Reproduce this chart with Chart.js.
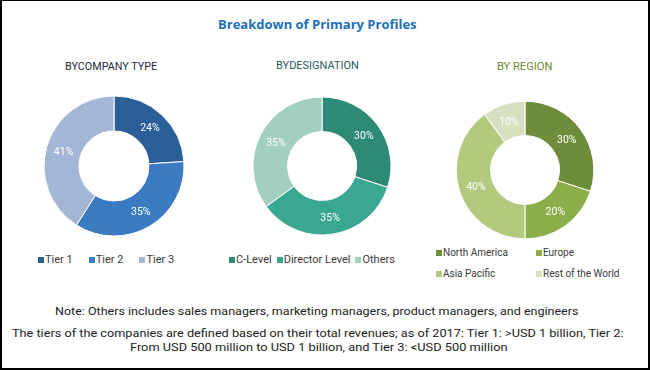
<!DOCTYPE html>
<html lang="en">
<head>
<meta charset="UTF-8">
<title>Breakdown of Primary Profiles</title>
<script src="https://cdn.jsdelivr.net/npm/chart.js"></script>
<style>
  body { margin: 0; background: #fff; }
  .frame { position: relative; width: 650px; height: 370px; background: #fff; overflow: hidden; font-family: Roboto, "Liberation Sans", sans-serif; }
  .edge { position: absolute; left: 0; top: 0; width: 650px; height: 370px; box-sizing: border-box; border: 2px solid #000; border-top-width: 1px; pointer-events: none; }
  .txt { position: absolute; white-space: nowrap; line-height: 14px; transform-origin: 0 50%; }
  .title { font-family: "Open Sans", sans-serif; font-weight: 700; font-size: 13px; color: #2170b6; }
  .sub { font-size: 11.5px; font-weight: 400; }
  .note { font-size: 11.5px; color: #1c1c1c; }
  .pie { position: absolute; }
  .legend { position: absolute; display: flex; font-size: 11px; color: #3a3a3a; line-height: 14px; }
  .legend.grid { display: grid; grid-template-columns: 100px 100px; row-gap: 7px; font-size: 10px; }
  .item { display: flex; align-items: center; white-space: nowrap; }
  .box { width: 6px; height: 6px; margin-right: 1px; }
</style>
</head>
<body>
<div class="frame" id="frame">
  <div class="txt title" data-x="218" data-y="24" data-w="199">Breakdown of Primary Profiles</div>
  <div class="txt sub" style="color:#1d2b3b" data-x="65" data-y="66" data-w="92">BYCOMPANY TYPE</div>
  <div class="txt sub" style="color:#2c5c58" data-x="276" data-y="65" data-w="83">BYDESIGNATION</div>
  <div class="txt sub" style="color:#6a8a2e" data-x="497" data-y="66" data-w="55">BY REGION</div>

  <div class="txt note" data-x="55" data-y="311" data-w="524">Note: Others includes sales managers, marketing managers, product managers, and engineers</div>
  <div class="txt note" data-x="12" data-y="333" data-w="612">The tiers of the companies are defined based on their total revenues; as of 2017: Tier 1: &gt;USD 1 billion, Tier 2:</div>
  <div class="txt note" data-x="130" data-y="347" data-w="377">From USD 500 million to USD 1 billion, and Tier 3: &lt;USD 500 million</div>
  <div class="edge"></div>
</div>

<script>
    // data
    const companyLabels = ['Tier 1', 'Tier 2', 'Tier 3'];
    const companyValues = [24, 35, 41];
    const companyColors = ['#2b5f98', '#3a7bc2', '#a4b6d6'];

    const designationLabels = ['C-Level', 'Director Level', 'Others'];
    const designationValues = [30, 35, 35];
    const designationColors = ['#2d8a76', '#3aa890', '#a2cfc0'];

    const regionLabels = ['North America', 'Europe', 'Asia Pacific', 'Rest of the World'];
    const regionValues = [30, 20, 40, 10];
    const regionColors = ['#6e8d3a', '#8bae4b', '#b2c97e', '#d7e1c2'];

    // layout: centre, outer radius, legend placement
    const pies = [
        { labels: companyLabels, values: companyValues, colors: companyColors,
          cx: 113.5, cy: 166, r: 70.5, legend: { x: 38, y: 253, gap: 16 } },
        { labels: designationLabels, values: designationValues, colors: designationColors,
          cx: 321.5, cy: 166, r: 69.5, legend: { x: 229, y: 253, gap: 5 } },
        { labels: regionLabels, values: regionValues, colors: regionColors,
          cx: 524.5, cy: 170, r: 69.3, legend: { x: 436, y: 246, grid: true } }
    ];

    const pctLabels = {
        id: 'pctLabels',
        afterDatasetsDraw(chart) {
            const ctx = chart.ctx;
            const meta = chart.getDatasetMeta(0);
            const vals = chart.data.datasets[0].data;
            ctx.save();
            ctx.fillStyle = '#ffffff';
            ctx.font = '10.5px Roboto';
            ctx.textAlign = 'center';
            ctx.textBaseline = 'middle';
            meta.data.forEach(function (arc, i) {
                const p = arc.tooltipPosition();
                ctx.fillText(vals[i] + '%', p.x, p.y + 1);
            });
            ctx.restore();
        }
    };

    const frame = document.getElementById('frame');
    const SIZE = 150;

    pies.forEach(function (p) {
        const canvas = document.createElement('canvas');
        canvas.className = 'pie';
        canvas.width = SIZE;
        canvas.height = SIZE;
        canvas.style.left = (p.cx - SIZE / 2) + 'px';
        canvas.style.top = (p.cy - SIZE / 2) + 'px';
        frame.insertBefore(canvas, frame.lastElementChild);

        new Chart(canvas, {
            type: 'doughnut',
            data: {
                labels: p.labels,
                datasets: [{
                    data: p.values,
                    backgroundColor: p.colors,
                    borderColor: '#ffffff',
                    borderWidth: 1
                }]
            },
            options: {
                responsive: false,
                animation: false,
                devicePixelRatio: 1,
                cutout: '50%',
                layout: { padding: SIZE / 2 - p.r },
                plugins: { legend: { display: false }, tooltip: { enabled: false } }
            },
            plugins: [pctLabels]
        });

        // legend built from the same arrays
        const lg = document.createElement('div');
        lg.className = 'legend' + (p.legend.grid ? ' grid' : '');
        lg.style.left = p.legend.x + 'px';
        lg.style.top = p.legend.y + 'px';
        if (!p.legend.grid) lg.style.gap = p.legend.gap + 'px';
        p.labels.forEach(function (lab, i) {
            const it = document.createElement('div');
            it.className = 'item';
            const b = document.createElement('span');
            b.className = 'box';
            b.style.background = p.colors[i];
            it.appendChild(b);
            it.appendChild(document.createTextNode(lab));
            lg.appendChild(it);
        });
        frame.insertBefore(lg, frame.lastElementChild);
    });

    // place text lines and stretch them to the measured widths
    document.querySelectorAll('.txt').forEach(function (el) {
        el.style.left = el.dataset.x + 'px';
        el.style.top = (el.dataset.y - 7) + 'px';
        const w = el.offsetWidth;
        el.style.transform = 'scaleX(' + (el.dataset.w / w) + ')';
    });
</script>
</body>
</html>
